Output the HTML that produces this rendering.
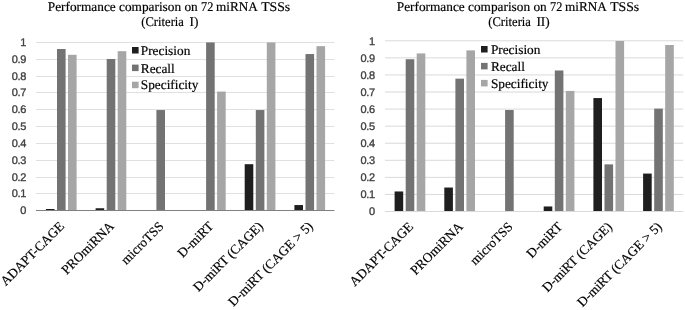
<!DOCTYPE html>
<html><head><meta charset="utf-8"><style>
html,body{margin:0;padding:0;background:#fff;}
body{width:685px;height:310px;overflow:hidden;}
svg{display:block;will-change:transform;text-rendering:geometricPrecision;}
.tt,.lg,.cl{font-family:"Liberation Serif",serif;font-size:13.3px;fill:#000;stroke:#000;stroke-width:0.18px;stroke-linejoin:round;}
.cl{text-anchor:end;}
.tk{font-family:"Liberation Sans",sans-serif;font-size:11px;letter-spacing:-0.3px;fill:#404040;stroke:#404040;stroke-width:0.35px;stroke-linejoin:round;text-anchor:end;}
</style></head><body>
<svg width="685" height="310" viewBox="0 0 685 310">
<rect width="685" height="310" fill="#fff"/>
<rect x="36" y="42.00" width="298.50" height="1" fill="#e0e0e0"/>
<rect x="36" y="59.00" width="298.50" height="1" fill="#e0e0e0"/>
<rect x="36" y="76.00" width="298.50" height="1" fill="#e0e0e0"/>
<rect x="36" y="92.00" width="298.50" height="1" fill="#e0e0e0"/>
<rect x="36" y="109.00" width="298.50" height="1" fill="#e0e0e0"/>
<rect x="36" y="126.00" width="298.50" height="1" fill="#e0e0e0"/>
<rect x="36" y="143.00" width="298.50" height="1" fill="#e0e0e0"/>
<rect x="36" y="160.00" width="298.50" height="1" fill="#e0e0e0"/>
<rect x="36" y="177.00" width="298.50" height="1" fill="#e0e0e0"/>
<rect x="36" y="193.00" width="298.50" height="1" fill="#e0e0e0"/>
<rect x="45.90" y="209.00" width="8.6" height="1.60" fill="#1e1e1e"/>
<rect x="57.00" y="49.01" width="8.6" height="161.59" fill="#737373"/>
<rect x="68.00" y="54.79" width="8.6" height="155.81" fill="#a6a6a6"/>
<rect x="95.60" y="208.25" width="8.6" height="2.35" fill="#1e1e1e"/>
<rect x="106.70" y="59.00" width="8.6" height="151.60" fill="#737373"/>
<rect x="117.70" y="51.19" width="8.6" height="159.41" fill="#a6a6a6"/>
<rect x="156.40" y="110.05" width="8.6" height="100.55" fill="#737373"/>
<rect x="206.10" y="42.45" width="8.6" height="168.15" fill="#737373"/>
<rect x="217.10" y="91.55" width="8.6" height="119.05" fill="#a6a6a6"/>
<rect x="244.70" y="164.19" width="8.6" height="46.41" fill="#1e1e1e"/>
<rect x="255.80" y="110.05" width="8.6" height="100.55" fill="#737373"/>
<rect x="266.80" y="42.45" width="8.6" height="168.15" fill="#a6a6a6"/>
<rect x="294.40" y="205.05" width="8.6" height="5.55" fill="#1e1e1e"/>
<rect x="305.50" y="54.05" width="8.6" height="156.55" fill="#737373"/>
<rect x="316.50" y="46.15" width="8.6" height="164.45" fill="#a6a6a6"/>
<rect x="36" y="210.00" width="298.50" height="1" fill="#808080"/>
<text class="tk" x="26.20" y="214.40">0</text>
<text class="tk" x="26.20" y="197.40">0.1</text>
<text class="tk" x="26.20" y="181.40">0.2</text>
<text class="tk" x="26.20" y="164.40">0.3</text>
<text class="tk" x="26.20" y="147.40">0.4</text>
<text class="tk" x="26.20" y="130.40">0.5</text>
<text class="tk" x="26.20" y="113.40">0.6</text>
<text class="tk" x="26.20" y="96.40">0.7</text>
<text class="tk" x="26.20" y="80.40">0.8</text>
<text class="tk" x="26.20" y="63.40">0.9</text>
<text class="tk" x="26.20" y="46.40">1</text>
<text class="tt" x="47.8" y="10.8">Performance comparison on</text>
<text class="tt" x="201.07" y="10.8" textLength="12.3" lengthAdjust="spacingAndGlyphs">72</text>
<text class="tt" x="216.00" y="10.8" textLength="41.8" lengthAdjust="spacingAndGlyphs">miRNA</text>
<text class="tt" x="261.20" y="10.8" textLength="29.0" lengthAdjust="spacingAndGlyphs">TSSs</text>
<text class="tt" x="141.3" y="26.4" textLength="42.6" lengthAdjust="spacingAndGlyphs">(Criteria</text>
<text class="tt" x="189.6" y="26.4">I)</text>
<rect x="132" y="47.0" width="6.6" height="6.5" fill="#1e1e1e"/>
<text class="lg" x="140.8" y="54.8">Precision</text>
<rect x="132" y="64.6" width="6.6" height="6.5" fill="#737373"/>
<text class="lg" x="140.8" y="72.5">Recall</text>
<rect x="132" y="81.7" width="6.6" height="6.5" fill="#a6a6a6"/>
<text class="lg" x="140.8" y="89.2">Specificity</text>
<text class="cl" x="65.05" y="227.00" transform="rotate(-45 65.05 227.00)">ADAPT-CAGE</text>
<text class="cl" x="114.75" y="227.00" transform="rotate(-45 114.75 227.00)">PROmiRNA</text>
<text class="cl" x="164.45" y="227.00" transform="rotate(-45 164.45 227.00)">microTSS</text>
<text class="cl" x="214.15" y="227.00" transform="rotate(-45 214.15 227.00)">D-miRT</text>
<text class="cl" x="263.85" y="227.00" transform="rotate(-45 263.85 227.00)">D-miRT (CAGE)</text>
<text class="cl" x="313.55" y="227.00" transform="rotate(-45 313.55 227.00)">D-miRT (CAGE &gt; 5)</text>
<rect x="385" y="40.30" width="298.20" height="1" fill="#d9d9d9"/>
<rect x="385" y="57.37" width="298.20" height="1" fill="#d9d9d9"/>
<rect x="385" y="74.44" width="298.20" height="1" fill="#d9d9d9"/>
<rect x="385" y="91.51" width="298.20" height="1" fill="#d9d9d9"/>
<rect x="385" y="108.58" width="298.20" height="1" fill="#d9d9d9"/>
<rect x="385" y="125.65" width="298.20" height="1" fill="#d9d9d9"/>
<rect x="385" y="142.72" width="298.20" height="1" fill="#d9d9d9"/>
<rect x="385" y="159.79" width="298.20" height="1" fill="#d9d9d9"/>
<rect x="385" y="176.86" width="298.20" height="1" fill="#d9d9d9"/>
<rect x="385" y="193.93" width="298.20" height="1" fill="#d9d9d9"/>
<rect x="394.60" y="191.46" width="8.6" height="19.94" fill="#1e1e1e"/>
<rect x="405.70" y="59.23" width="8.6" height="152.17" fill="#737373"/>
<rect x="416.70" y="53.44" width="8.6" height="157.96" fill="#a6a6a6"/>
<rect x="444.30" y="187.54" width="8.6" height="23.86" fill="#1e1e1e"/>
<rect x="455.40" y="78.66" width="8.6" height="132.74" fill="#737373"/>
<rect x="466.40" y="50.37" width="8.6" height="161.03" fill="#a6a6a6"/>
<rect x="505.10" y="110.01" width="8.6" height="101.39" fill="#737373"/>
<rect x="543.70" y="206.46" width="8.6" height="4.94" fill="#1e1e1e"/>
<rect x="554.80" y="70.48" width="8.6" height="140.92" fill="#737373"/>
<rect x="565.80" y="90.93" width="8.6" height="120.47" fill="#a6a6a6"/>
<rect x="593.40" y="98.08" width="8.6" height="113.32" fill="#1e1e1e"/>
<rect x="604.50" y="164.37" width="8.6" height="47.03" fill="#737373"/>
<rect x="615.50" y="41.00" width="8.6" height="170.40" fill="#a6a6a6"/>
<rect x="643.10" y="173.57" width="8.6" height="37.83" fill="#1e1e1e"/>
<rect x="654.20" y="108.65" width="8.6" height="102.75" fill="#737373"/>
<rect x="665.20" y="45.00" width="8.6" height="166.40" fill="#a6a6a6"/>
<rect x="385" y="211.00" width="298.20" height="1" fill="#d9d9d9"/>
<text class="tk" x="374.90" y="215.40">0</text>
<text class="tk" x="374.90" y="198.33">0.1</text>
<text class="tk" x="374.90" y="181.26">0.2</text>
<text class="tk" x="374.90" y="164.19">0.3</text>
<text class="tk" x="374.90" y="147.12">0.4</text>
<text class="tk" x="374.90" y="130.05">0.5</text>
<text class="tk" x="374.90" y="112.98">0.6</text>
<text class="tk" x="374.90" y="95.91">0.7</text>
<text class="tk" x="374.90" y="78.84">0.8</text>
<text class="tk" x="374.90" y="61.77">0.9</text>
<text class="tk" x="374.90" y="44.70">1</text>
<text class="tt" x="396.8" y="10.8">Performance comparison on</text>
<text class="tt" x="550.07" y="10.8" textLength="12.3" lengthAdjust="spacingAndGlyphs">72</text>
<text class="tt" x="565.00" y="10.8" textLength="41.8" lengthAdjust="spacingAndGlyphs">miRNA</text>
<text class="tt" x="610.20" y="10.8" textLength="29.0" lengthAdjust="spacingAndGlyphs">TSSs</text>
<text class="tt" x="488.3" y="26.4" textLength="42.6" lengthAdjust="spacingAndGlyphs">(Criteria</text>
<text class="tt" x="536.4" y="26.4">II)</text>
<rect x="481.0" y="46.0" width="6.6" height="6.5" fill="#1e1e1e"/>
<text class="lg" x="490.9" y="53.7">Precision</text>
<rect x="481.0" y="62.9" width="6.6" height="6.5" fill="#737373"/>
<text class="lg" x="490.9" y="70.7">Recall</text>
<rect x="481.0" y="79.9" width="6.6" height="6.5" fill="#a6a6a6"/>
<text class="lg" x="490.9" y="87.7">Specificity</text>
<text class="cl" x="414.05" y="227.50" transform="rotate(-45 414.05 227.50)">ADAPT-CAGE</text>
<text class="cl" x="463.75" y="227.50" transform="rotate(-45 463.75 227.50)">PROmiRNA</text>
<text class="cl" x="513.45" y="227.50" transform="rotate(-45 513.45 227.50)">microTSS</text>
<text class="cl" x="563.15" y="227.50" transform="rotate(-45 563.15 227.50)">D-miRT</text>
<text class="cl" x="612.85" y="227.50" transform="rotate(-45 612.85 227.50)">D-miRT (CAGE)</text>
<text class="cl" x="662.55" y="227.50" transform="rotate(-45 662.55 227.50)">D-miRT (CAGE &gt; 5)</text>
</svg>
</body></html>
